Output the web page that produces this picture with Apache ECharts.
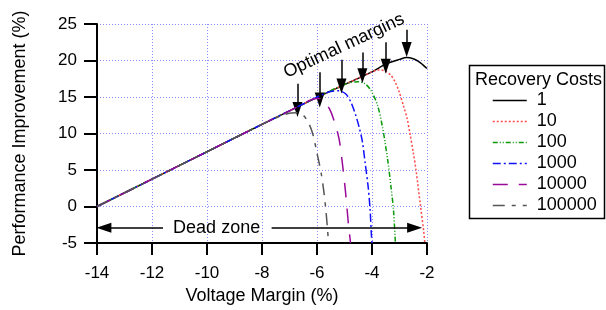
<!DOCTYPE html>
<html>
<head>
<meta charset="utf-8">
<script src="https://cdn.jsdelivr.net/npm/echarts@6/dist/echarts.min.js"></script>
<style>
  html, body { margin: 0; padding: 0; background: #fff; }
  #chart { width: 606px; height: 310px; }
</style>
</head>
<body>
<div id="chart"></div>
<script>
// 数据：各恢复代价下的性能提升曲线 [电压裕量, 性能提升]
const costNames = ['1', '10', '100', '1000', '10000', '100000']
const xTicks = [-14, -12, -10, -8, -6, -4, -2]
const yTicks = [-5, 0, 5, 10, 15, 20, 25]

const cost1 = [[-14, 0], [-12, 3.75], [-10, 7.5], [-8, 11.25], [-6, 14.95], [-5, 16.7], [-4, 18.45],
  [-3.5, 19.5], [-3.0, 20.15], [-2.74, 20.4], [-2.5, 20.25], [-2.3, 19.85], [-2.15, 19.4], [-2, 18.9]]
const cost10 = [[-14, 0], [-12, 3.75], [-10, 7.5], [-8, 11.25], [-6, 14.95], [-5, 16.7], [-4.2, 18.1],
  [-4, 18.45], [-3.75, 18.7], [-3.55, 18.6], [-3.32, 18.0], [-3.15, 17.0], [-3.02, 15.8], [-2.84, 13.6],
  [-2.72, 12.0], [-2.62, 10.0], [-2.5, 7.4], [-2.4, 5.0], [-2.24, 0.2], [-2.12, -3.4], [-2.08, -5]]
const cost100 = [[-14, 0], [-12, 3.75], [-10, 7.5], [-8, 11.25], [-6, 14.95], [-5.2, 16.4], [-4.8, 16.95],
  [-4.5, 17.1], [-4.25, 16.8], [-4.04, 15.9], [-3.8, 13.9], [-3.62, 10.9], [-3.43, 6.4], [-3.31, 2.7],
  [-3.22, -0.4], [-3.16, -4.2], [-3.15, -5]]
const cost1000 = [[-14, 0], [-12, 3.75], [-10, 7.5], [-8, 11.25], [-6.2, 14.6], [-5.8, 15.35], [-5.5, 15.75],
  [-5.2, 15.85], [-4.95, 15.4], [-4.77, 14.3], [-4.6, 12.6], [-4.45, 10.6], [-4.35, 8.9], [-4.25, 6.0],
  [-4.14, 2.7], [-4.07, -0.4], [-4.02, -4.0], [-4.0, -5]]
const cost10000 = [[-14, 0], [-12, 3.75], [-10, 7.5], [-8, 11.25], [-7, 13.1], [-6.4, 14.3], [-6.1, 14.75],
  [-5.93, 14.8], [-5.75, 14.4], [-5.55, 13.4], [-5.4, 12.0], [-5.2, 9.3], [-5.08, 6.0], [-4.96, 1.9],
  [-4.86, -2.3], [-4.78, -5]]
const cost100000 = [[-14, 0], [-12, 3.75], [-10, 7.5], [-8, 11.25], [-7.3, 12.45], [-6.95, 12.8],
  [-6.72, 12.85], [-6.5, 12.5], [-6.3, 11.4], [-6.15, 9.9], [-6.0, 7.3], [-5.85, 4.6], [-5.75, 2.0],
  [-5.68, -0.4], [-5.62, -3.0], [-5.58, -5]]

// 最优裕量箭头 [x, 起点y, 终点y]
const optimalArrows = [[-6.71, 16.8, 13.3], [-5.9, 18.4, 14.6], [-5.11, 20.1, 16.5],
  [-4.35, 21.1, 17.9], [-3.5, 22.5, 19.2], [-2.74, 24.2, 21.5]]

const font = 'Liberation Sans, Arial, sans-serif'

const seriesData = [cost1, cost10, cost100, cost1000, cost10000, cost100000]
const seriesStyle = [
  { color: '#000000', type: 'solid' },
  { color: '#ff4a4a', type: [2, 2] },
  { color: '#0a9a0a', type: [5, 2, 1, 2, 1, 2] },
  { color: '#1010ff', type: [8, 3, 2, 3] },
  { color: '#9a0a9a', type: [15, 11] },
  { color: '#555555', type: [12, 7, 4, 7] }
]

const chart = echarts.init(document.getElementById('chart'))

const series = costNames.map((name, i) => ({
  name: name,
  type: 'line',
  data: seriesData[i],
  symbol: 'none',
  smooth: 0.3,
  lineStyle: { color: seriesStyle[i].color, type: seriesStyle[i].type, width: 1.5 },
  itemStyle: { color: seriesStyle[i].color },
  emphasis: { disabled: true },
  z: 2 + i
}))

// 标注：箭头与文字
series.push({
  name: 'notes',
  type: 'line',
  data: [],
  silent: true,
  markLine: {
    silent: true,
    symbol: ['none', 'triangle'],
    symbolSize: [10, 15],
    lineStyle: { color: '#000', type: 'solid', width: 1.5 },
    label: { show: false },
    data: optimalArrows.map(a => [{ coord: [a[0], a[1]] }, { coord: [a[0], a[2]] }])
      .concat([
        [{ coord: [-11.6, -2.9] }, { coord: [-13.75, -2.9] }],
        [{ coord: [-7.65, -2.9] }, { coord: [-2.45, -2.9] }]
      ])
  },
  markPoint: {
    silent: true,
    symbolSize: 0,
    data: [
      {
        coord: [-9.65, -2.9],
        label: { show: true, formatter: 'Dead zone', color: '#000', fontSize: 18, fontFamily: font }
      },
      {
        coord: [-5.02, 22.0],
        label: { show: true, formatter: 'Optimal margins', color: '#000', fontSize: 18, fontFamily: font, rotate: 25 }
      }
    ]
  },
  z: 10
})

const option = {
  backgroundColor: '#fff',
  animation: false,
  grid: { left: 97, right: 179, top: 24, bottom: 66 },
  xAxis: {
    type: 'value',
    min: -14,
    max: -2,
    interval: 2,
    name: 'Voltage Margin (%)',
    nameLocation: 'middle',
    nameGap: 44,
    nameTextStyle: { color: '#000', fontSize: 18, fontFamily: font },
    axisLine: { onZero: false, lineStyle: { color: '#000', width: 2 } },
    axisTick: { inside: false, length: 12, lineStyle: { color: '#000', width: 2 } },
    axisLabel: { color: '#000', fontSize: 17, fontFamily: font, margin: 22,
      formatter: v => xTicks.includes(v) ? String(v) : '' },
    splitLine: { show: true, lineStyle: { color: '#8a8aff', type: [1, 2], width: 1 } }
  },
  yAxis: {
    type: 'value',
    min: -5,
    max: 25,
    interval: 5,
    name: 'Performance Improvement (%)',
    nameLocation: 'middle',
    nameGap: 68,
    nameTextStyle: { color: '#000', fontSize: 18, fontFamily: font },
    axisLine: { show: true, onZero: false, lineStyle: { color: '#000', width: 2 } },
    axisTick: { show: true, inside: false, length: 13, lineStyle: { color: '#000', width: 2 } },
    axisLabel: { color: '#000', fontSize: 17, fontFamily: font, margin: 20,
      formatter: v => yTicks.includes(v) ? String(v) : '' },
    splitLine: { show: true, lineStyle: { color: '#8a8aff', type: [1, 2], width: 1 } }
  },
  legend: {
    data: costNames,
    orient: 'vertical',
    left: 492,
    top: 90,
    itemWidth: 34,
    itemHeight: 14,
    itemGap: 0,
    padding: 0,
    selectedMode: false,
    itemStyle: { opacity: 0 },
    lineStyle: { width: 1.5 },
    textStyle: { color: '#000', fontSize: 18, fontFamily: font, lineHeight: 21, padding: [0, 0, 0, 5] }
  },
  graphic: [
    {
      type: 'rect',
      shape: { x: 469.5, y: 65.5, width: 135, height: 153 },
      style: { fill: 'none', stroke: '#000', lineWidth: 1.5 },
      silent: true
    },
    {
      type: 'text',
      x: 475,
      y: 80,
      style: { text: 'Recovery Costs', fill: '#000', fontSize: 18, fontFamily: font, verticalAlign: 'middle' },
      silent: true
    }
  ],
  series: series
}

chart.setOption(option)
</script>
</body>
</html>
